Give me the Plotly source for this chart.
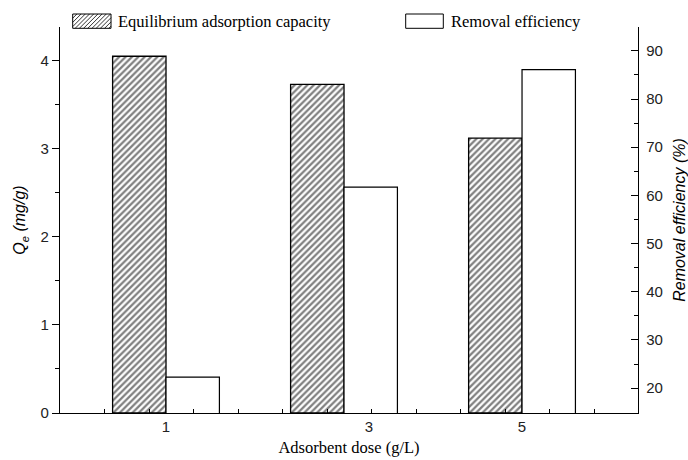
import plotly.graph_objects as go

# ---------------- data ----------------
doses = [1, 3, 5]
dose_labels = ["1", "3", "5"]
qe_values = [4.05, 3.73, 3.12]          # Equilibrium adsorption capacity (mg/g), left axis
removal_values = [22.3, 61.7, 86.1]     # Removal efficiency (%), right axis
series_names = ["Equilibrium adsorption capacity", "Removal efficiency"]

# ---------------- layout geometry ----------------
W, H = 688, 460
ML, MR, MT, MB = 60, 50, 27, 47
PW = W - ML - MR
PH = H - MT - MB


def px(x):
    return (x - ML) / PW


def py(y):
    return (H - MB - y) / PH


BAR_W = 0.6
X_RANGE = [-0.191, 6.303]
label_shift = [0.0, 0.28, 0.0]  # visual offset of tick labels as in the reference

serif = "Liberation Serif, Times New Roman, serif"
sans = "Liberation Sans, Arial, sans-serif"

fig = go.Figure()
fig.add_trace(go.Bar(
    x=doses, y=qe_values, width=BAR_W, offset=-BAR_W, yaxis="y",
    name=series_names[0], showlegend=False,
    marker=dict(color="white", line=dict(color="black", width=1.3),
                pattern=dict(shape="/", size=4.5, solidity=0.5,
                             fgcolor="black", bgcolor="white")),
))
fig.add_trace(go.Bar(
    x=doses, y=removal_values, width=BAR_W, offset=0, yaxis="y2",
    name=series_names[1], showlegend=False,
    marker=dict(color="white", line=dict(color="black", width=1.2)),
))

minor_x = [X_RANGE[0] + 0.5 * k for k in range(1, 13)]

fig.update_layout(
    width=W, height=H,
    margin=dict(l=ML, r=MR, t=MT, b=MB, autoexpand=False),
    paper_bgcolor="white", plot_bgcolor="white",
    barmode="overlay",
    showlegend=False,
    xaxis=dict(
        range=X_RANGE, showgrid=False, zeroline=False, automargin=False,
        showline=True, linecolor="black", linewidth=1.3,
        tickmode="array",
        tickvals=[d + s for d, s in zip(doses, label_shift)],
        ticktext=dose_labels, ticks="", ticklabelstandoff=0,
        tickfont=dict(family=sans, size=15, color="#222"),
        minor=dict(tickmode="array", tickvals=minor_x, ticks="inside",
                   ticklen=4, tickcolor="black", tickwidth=1),
        title=dict(text="Adsorbent dose (g/L)", standoff=7,
                   font=dict(family=serif, size=16.5, color="black")),
    ),
    yaxis=dict(
        range=[0, 4.382], showgrid=False, zeroline=False, automargin=False,
        showline=True, linecolor="black", linewidth=1.3,
        tick0=0, dtick=1, ticks="outside", ticklen=7, tickwidth=1.2,
        tickcolor="black",
        tickfont=dict(family=sans, size=15, color="#222"),
        minor=dict(dtick=0.5, ticks="outside", ticklen=4,
                   tickcolor="black", tickwidth=1),
        title=dict(text="<i>Q<sub>e</sub> (mg/g)</i>", standoff=10,
                   font=dict(family=sans, size=16, color="black")),
    ),
    yaxis2=dict(
        range=[14.85, 94.94], overlaying="y", side="right", anchor="x",
        showgrid=False, zeroline=False, automargin=False,
        showline=True, linecolor="black", linewidth=1.3,
        tick0=0, dtick=10, ticks="inside", ticklen=7, tickwidth=1.2,
        tickcolor="black", ticklabelstandoff=4,
        tickfont=dict(family=sans, size=15, color="#222"),
        minor=dict(dtick=5, ticks="inside", ticklen=4,
                   tickcolor="black", tickwidth=1),
        title=dict(text="<i>Removal efficiency (%)</i>", standoff=14,
                   font=dict(family=sans, size=16, color="black")),
    ),
)

# ---------------- hand-drawn legend (wide swatches as in the reference) ----------------
sw_y0, sw_y1 = 14, 28.3
swatches = [(72.7, 111.0, True, 116), (405.7, 443.3, False, 449)]
for (x0, x1, hatched, tx), name in zip(swatches, series_names):
    fig.add_shape(type="rect", xref="paper", yref="paper",
                  x0=px(x0), x1=px(x1), y0=py(sw_y1), y1=py(sw_y0),
                  line=dict(color="black", width=1), fillcolor="white")
    if hatched:
        segs = []
        h = sw_y1 - sw_y0
        step = 4.2
        s = x0 - h
        while s < x1:
            ax, ay = s, sw_y1
            bx, by = s + h, sw_y0
            if ax < x0:
                ay = sw_y1 - (x0 - ax)
                ax = x0
            if bx > x1:
                by = sw_y0 + (bx - x1)
                bx = x1
            if bx > ax:
                segs.append(f"M{px(ax):.5f},{py(ay):.5f} L{px(bx):.5f},{py(by):.5f}")
            s += step
        fig.add_shape(type="path", xref="paper", yref="paper",
                      path=" ".join(segs), line=dict(color="black", width=0.8))
    fig.add_annotation(xref="paper", yref="paper", x=px(tx), y=py((sw_y0 + sw_y1) / 2),
                       xanchor="left", yanchor="middle", showarrow=False,
                       text=name, font=dict(family=serif, size=16.5, color="black"))

fig.write_html("out.html")
